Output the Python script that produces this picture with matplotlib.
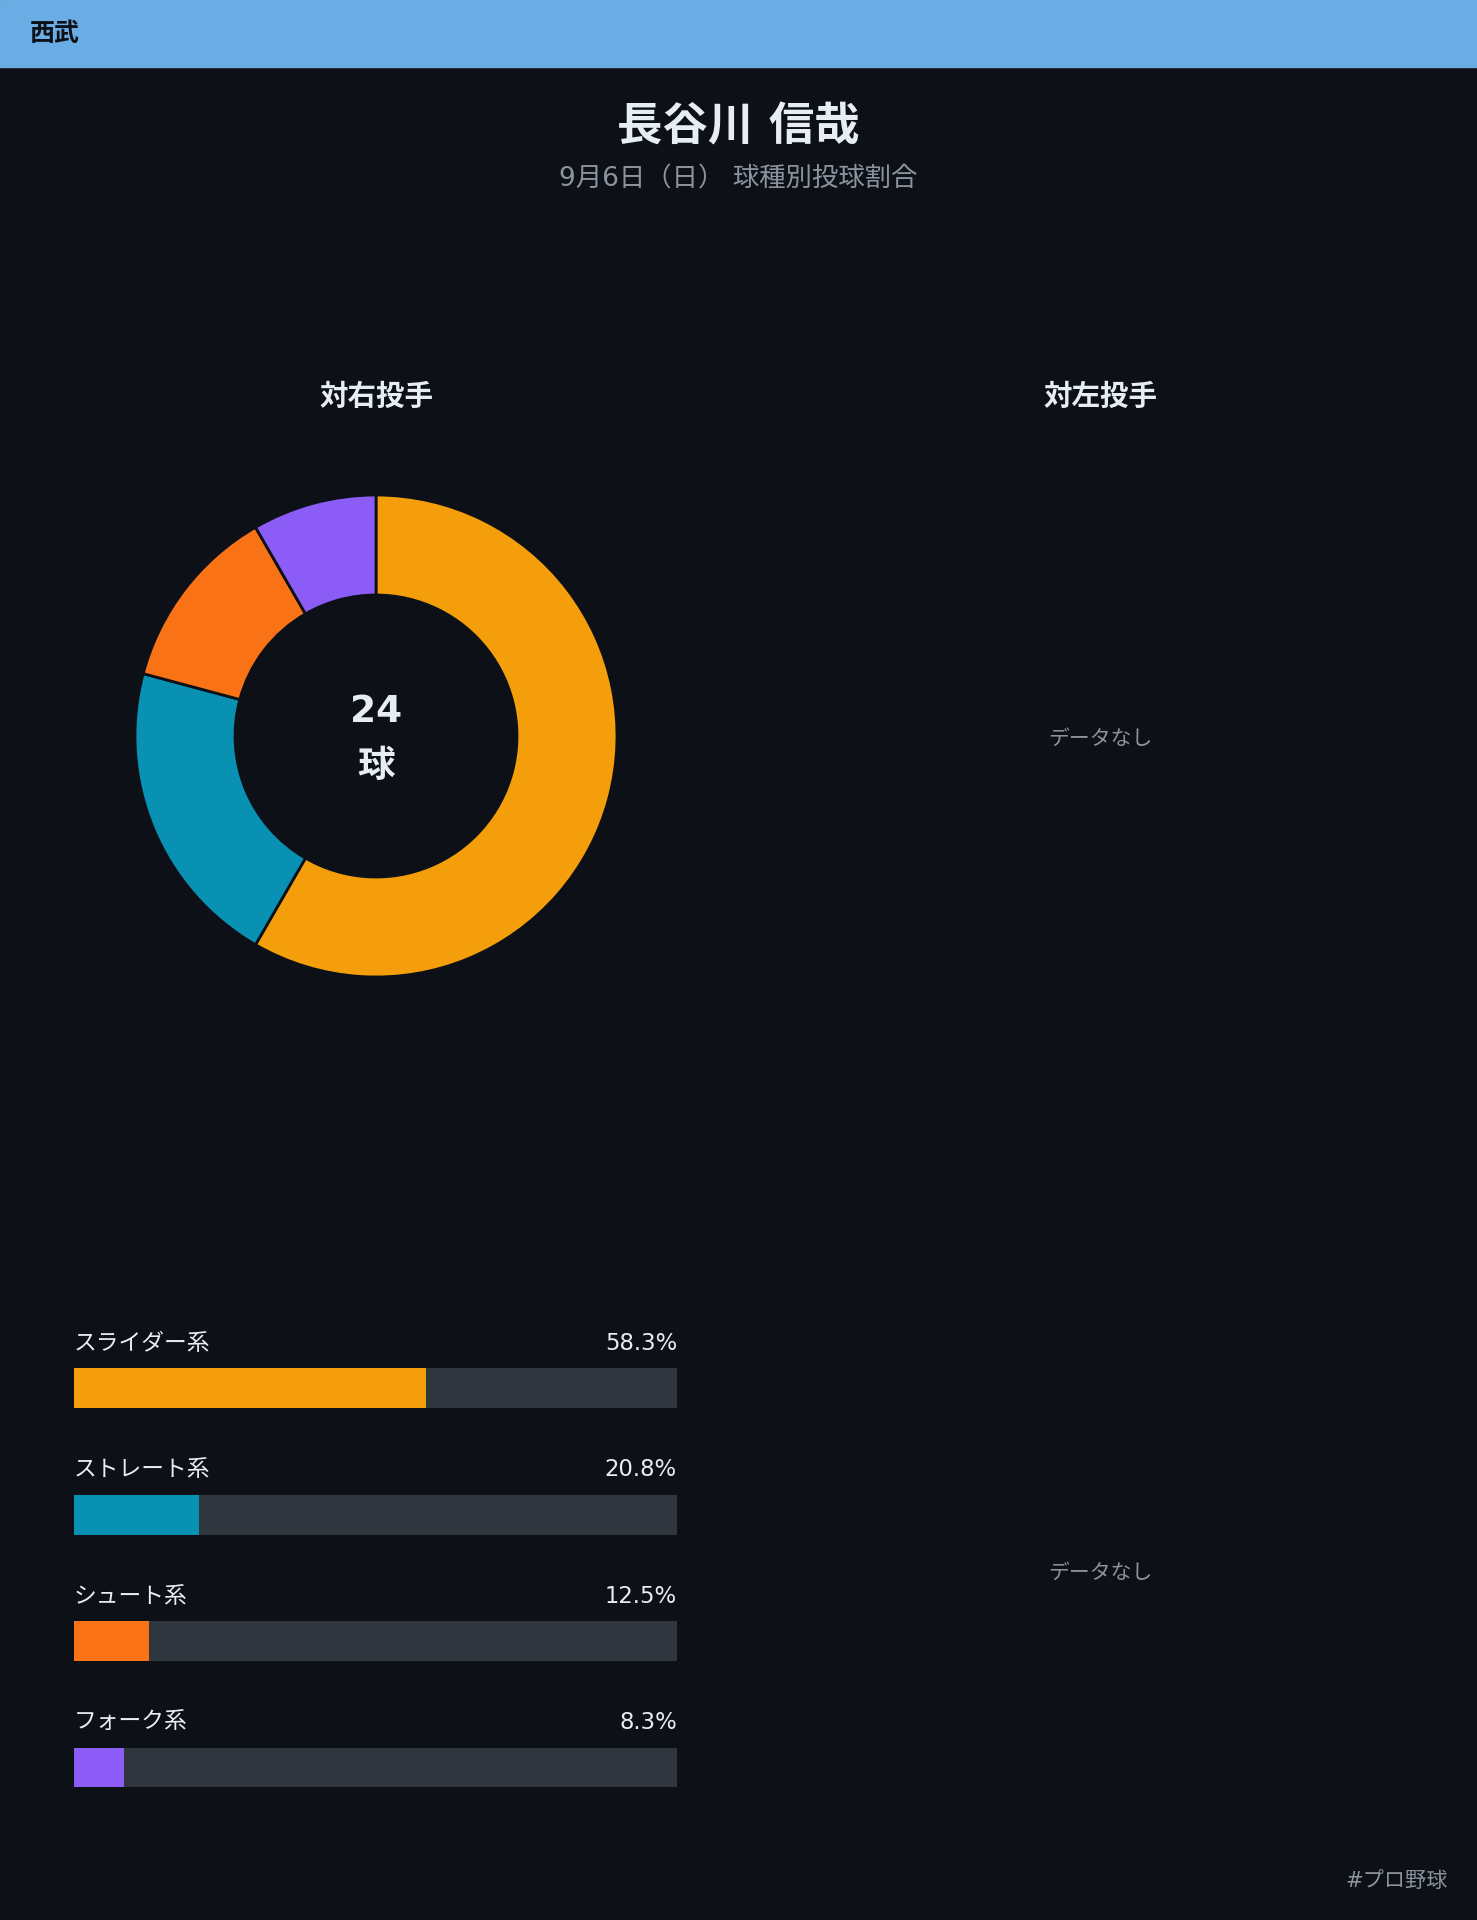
import matplotlib
matplotlib.use("Agg")
import matplotlib.pyplot as plt
from matplotlib.patches import Rectangle

plt.rcParams['font.family'] = ['DejaVu Sans', 'Noto Sans CJK JP']

# data
team = "西武"
player = "長谷川 信哉"
subtitle = "9月6日（日） 球種別投球割合"
pitch_types = ["スライダー系", "ストレート系", "シュート系", "フォーク系"]
counts = [14, 5, 3, 2]
colors = ["#f59e0b", "#0891b2", "#f97316", "#8b5cf6"]
total = sum(counts)
pcts = [c / total * 100 for c in counts]

BG = "#0d1117"
TRACK = "#30363d"
W, H = 1477, 1920

fig = plt.figure(figsize=(W / 100, H / 100), dpi=100, facecolor=BG)

# full-figure axes in pixel coordinates for background/text
bg = fig.add_axes([0, 0, 1, 1])
bg.set_xlim(0, W)
bg.set_ylim(H, 0)
bg.axis("off")
bg.add_patch(Rectangle((0, 0), W, 67, color="#6aace4", zorder=0))
bg.text(30, 34, team, fontsize=18, fontweight="bold", color=BG, va="center", ha="left")
bg.text(W / 2, 128, player, fontsize=32.7, fontweight="bold", color="#e6edf3", ha="center", va="center")
bg.text(W / 2, 179, subtitle, fontsize=19, color="#8b949e", ha="center", va="center")
bg.text(376, 397, "対右投手", fontsize=20.5, fontweight="bold", color="#e6edf3", ha="center", va="center")
bg.text(1100, 397, "対左投手", fontsize=20.5, fontweight="bold", color="#e6edf3", ha="center", va="center")
bg.text(1100, 738.5, "データなし", fontsize=15, color="#8b949e", ha="center", va="center")
bg.text(1100, 1572.5, "データなし", fontsize=15, color="#8b949e", ha="center", va="center")
bg.text(1448, 1882, "#プロ野球", fontsize=15.2, color="#8b949e", ha="right", va="center")

# donut
cx, cy, r = 376, 736, 241
ax = fig.add_axes([(cx - r) / W, (H - cy - r) / H, 2 * r / W, 2 * r / H])
ax.pie(counts, colors=colors, startangle=90, counterclock=False, radius=1,
       wedgeprops=dict(width=(241 - 141) / 241, edgecolor=BG, linewidth=2))
ax.set_xlim(-1, 1)
ax.set_ylim(-1, 1)
ax.axis("off")
ax.text(0, 0.10, str(total), fontsize=27, fontweight="bold", color="#e6edf3", ha="center", va="center")
ax.text(0, -0.13, "球", fontsize=27, fontweight="bold", color="#e6edf3", ha="center", va="center")

# bars
top_px, bot_px = 1299.5, 1830.75
bx = fig.add_axes([73.5 / W, (H - bot_px) / H, 603.5 / W, (bot_px - top_px) / H])
bx.set_xlim(0, 100)
bx.set_ylim(3.5, -0.7)
bx.axis("off")
ypos = list(range(len(pitch_types)))
bx.barh(ypos, [100] * len(ypos), height=0.316, color=TRACK, left=0)
bx.barh(ypos, pcts, height=0.316, color=colors, left=0)
for i, (name, p) in enumerate(zip(pitch_types, pcts)):
    bx.text(0, i - 0.353, name, fontsize=16.4, color="#e6edf3", ha="left", va="center")
    bx.text(100, i - 0.353, f"{p:.1f}%", fontsize=16.4, color="#e6edf3", ha="right", va="center")

fig.savefig("out.png", dpi=100, facecolor=BG)
